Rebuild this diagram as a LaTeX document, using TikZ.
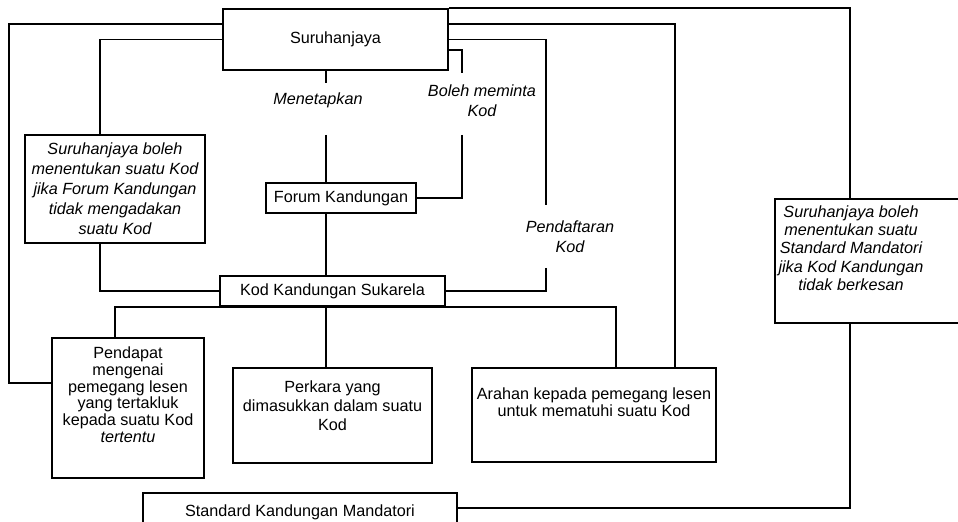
\documentclass[tikz,border=0pt]{standalone}
\usepackage{fontspec}
\setmainfont{Liberation Sans}
\tikzset{
  box/.style={draw, line width=0.9pt, inner sep=2pt, align=center},
  lbl/.style={font=\itshape\fontsize{8.1}{9.8}\selectfont, align=center, inner sep=0pt},
}
\begin{document}
\begin{tikzpicture}[x=0.5pt, y=-0.5pt, line width=0.8pt, font=\fontsize{8.1}{9.5}\selectfont]
            %\draw[lightgray] (0, 0) grid[step=50] (958, 522);
            \useasboundingbox (0, 0) rectangle (958, 522);
            \node[box, minimum width=112.5pt, minimum height=30.5pt] (suru) at (335.5, 39.5) {Suruhanjaya};
            \node[box, minimum width=90pt, minimum height=54pt, font=\itshape\fontsize{8.1}{10}\selectfont] (kfsb) at (115, 189) {Suruhanjaya boleh\\menentukan suatu Kod\\jika Forum Kandungan\\tidak mengadakan\\suatu Kod};
            \node[box, minimum width=75pt, minimum height=15pt] (forum) at (341, 198) {Forum Kandungan};
            \node[box, minimum width=112.5pt, minimum height=15pt] (kks) at (332.5, 291) {Kod Kandungan Sukarela};
            \node[box, minimum width=76pt, minimum height=70pt, font=\fontsize{8.1}{8.4}\selectfont] (pendapat) at (128, 408) {Pendapat\\mengenai\\pemegang lesen\\yang tertakluk\\kepada suatu Kod\\\textit{tertentu}\\[5pt]\mbox{}};
            \node[box, minimum width=99.5pt, minimum height=47.5pt] (perkara) at (332.5, 415.5) {Perkara yang\\dimasukkan dalam suatu\\Kod\\\mbox{}};
            \node[box, minimum width=122pt, minimum height=47pt, font=\fontsize{8.1}{8.5}\selectfont] (arahan) at (594, 415) {Arahan kepada pemegang lesen\\untuk mematuhi suatu Kod\\[4.5pt]\mbox{}};
            \node[box, minimum width=100pt, minimum height=62pt] (rb) at (875, 261) {};
            \node[lbl, font=\itshape\fontsize{8.1}{9.15}\selectfont] (rbtext) at (851, 248) {Suruhanjaya boleh\\menentukan suatu\\Standard Mandatori\\jika Kod Kandungan\\tidak berkesan};
            \node[box, minimum width=157pt, minimum height=19pt] (std) at (300, 512) {Standard Kandungan Mandatori};
            \node[lbl] (menet) at (318, 100) {Menetapkan};
            \node[lbl, font=\itshape\fontsize{8.1}{10}\selectfont] (boleh) at (482, 101) {Boleh meminta\\Kod};
            \node[lbl] (daftar) at (570, 236.5) {Pendaftaran\\Kod};
            \coordinate (menA) at (326, 83);
            \coordinate (menB) at (326, 135);
            \coordinate (bolA) at (462, 73);
            \coordinate (bolB) at (462, 135);
            \coordinate (dafA) at (546, 205);
            \coordinate (dafB) at (546, 268);
            \draw ([yshift=7.75pt]suru.west) -- ++(-213, 0) |- ([yshift=12.5pt]pendapat.west);
            \draw (suru.west) -| ([xshift=-7.5pt]kfsb.north);
            \draw ([xshift=-7.5pt]kfsb.south) |- (kks.west);
            \draw ([xshift=-4.75pt]suru.south) -- (menA);
            \draw (menB) -- ([xshift=-7.5pt]forum.north);
            \draw ([yshift=-5.25pt]suru.east) -| (bolA);
            \draw (bolB) |- (forum.east);
            \draw (suru.east) -| (dafA);
            \draw (dafB) |- (kks.east);
            \draw ([yshift=7.75pt]suru.east) -| ([xshift=40.5pt]arahan.north);
            \draw (suru.north east) -| ([xshift=-12.5pt]rb.north);
            \draw ([xshift=-12.5pt]rb.south) |- ([yshift=2pt]std.east);
            \draw ([xshift=-7.5pt]forum.south) -- ([xshift=-3.25pt]kks.north);
            \draw ([xshift=-6.5pt]pendapat.north) |- ([xshift=-3.25pt]kks.south) -| ([xshift=11pt]arahan.north);
            \draw ([xshift=-3.25pt]kks.south) -- ([xshift=-3.25pt]perkara.north);
\end{tikzpicture}
\end{document}
